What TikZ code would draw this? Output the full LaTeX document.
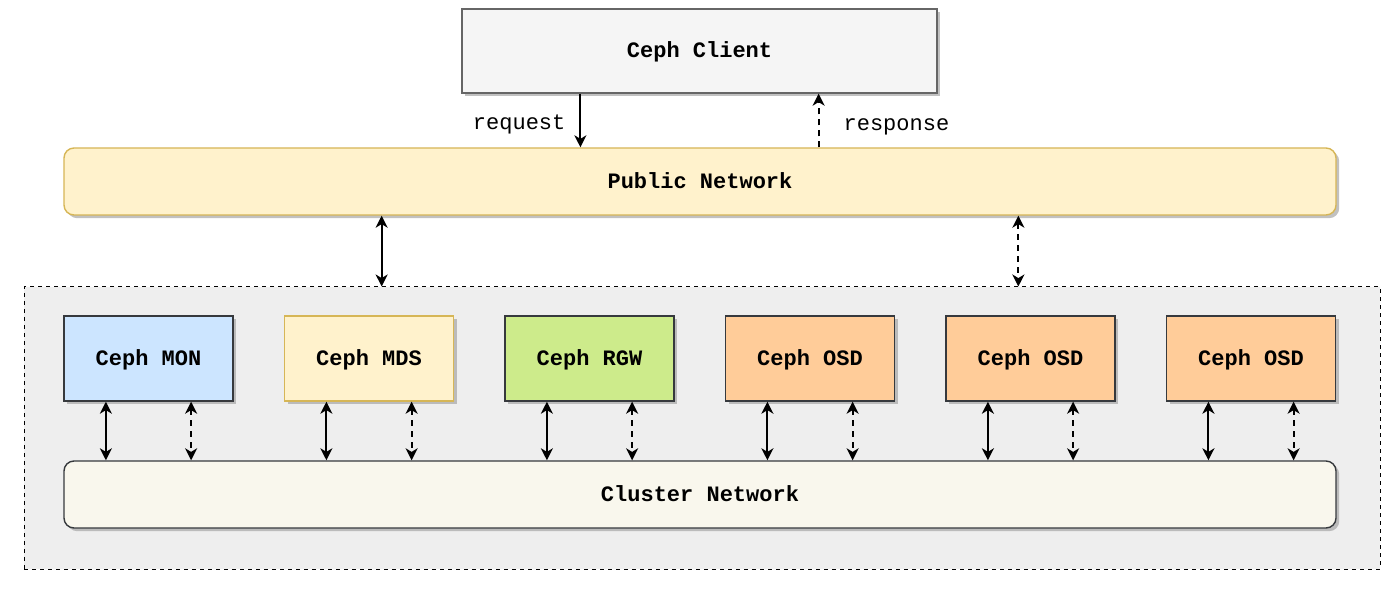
\documentclass[tikz,border=0pt]{standalone}
\usepackage{fontspec}
\setmonofont{Liberation Mono}
\usepackage{tikz}
\usetikzlibrary{arrows.meta, calc, shadows}

\definecolor{clientfill}{HTML}{F5F5F5}
\definecolor{clientdraw}{HTML}{666666}
\definecolor{pubfill}{HTML}{FFF2CC}
\definecolor{pubdraw}{HTML}{D6B656}
\definecolor{clufill}{HTML}{F9F7ED}
\definecolor{darkdraw}{HTML}{36393D}
\definecolor{zonefill}{HTML}{EEEEEE}
\definecolor{monfill}{HTML}{CCE5FF}
\definecolor{rgwfill}{HTML}{CDEB8B}
\definecolor{osdfill}{HTML}{FFCC99}

\begin{document}
\begin{tikzpicture}[
  x=0.5pt, y=-0.5pt,
  font=\fontsize{11}{13}\selectfont\ttfamily,
  shade/.style={drop shadow={shadow xshift=1.6pt, shadow yshift=-1.6pt, fill=black!35, opacity=0.7}},
  box/.style={draw=darkdraw, line width=0.7pt, shade, minimum width=84.5pt, minimum height=42.5pt,
    text height=0.9em, text depth=0.2em, font=\fontsize{11}{13}\selectfont\ttfamily\bfseries},
  net/.style={rounded corners=5pt, line width=0.7pt, shade, minimum width=636pt, minimum height=33.5pt,
    text height=0.9em, text depth=0.2em, font=\fontsize{11}{13}\selectfont\ttfamily\bfseries},
  zone/.style={draw=black, fill=zonefill, line width=0.5pt, dash pattern=on 2pt off 2pt, minimum width=678pt, minimum height=141pt},
  arr/.style={{Stealth[length=6pt, width=6pt, inset=1.8pt]}-{Stealth[length=6pt, width=6pt, inset=1.8pt]}, line width=1pt},
  oneway/.style={-{Stealth[length=6pt, width=6pt, inset=1.8pt]}, line width=1pt},
  dsh/.style={dash pattern=on 3pt off 2.5pt}
]
  \useasboundingbox (0,0) rectangle (1400,592);

  % Client and public network
  \node[box, fill=clientfill, draw=clientdraw, minimum width=237.5pt, minimum height=42pt] (client) at (699.5,51) {Ceph Client};
  \node[net, fill=pubfill, draw=pubdraw] (public) at (700,181.5) {Public Network};

  % Cluster zone
  \node[zone] (cluster zone) at (702,428) {};
  \node[net, fill=clufill, draw=darkdraw] (cluster) at (700,494.5) {Cluster Network};

  % Daemons
  \foreach \n/\f/\d/\x/\t in {mon/monfill/darkdraw/148.5/MON, mds/pubfill/pubdraw/369/MDS,
      rgw/rgwfill/darkdraw/589.5/RGW, osda/osdfill/darkdraw/810/OSD,
      osdb/osdfill/darkdraw/1030.5/OSD, osdc/osdfill/darkdraw/1251/OSD} {
    \node[box, fill=\f, draw=\d] (\n) at (\x,358.5) {Ceph \t};
  }

  % Client <-> public network
  \coordinate (req) at ($(client.south west)!0.25!(client.south east)$);
  \coordinate (resp) at ($(client.south west)!0.75!(client.south east)$);
  \draw[oneway] (req) -- (req |- public.north)
    node[midway, left=6pt, inner sep=1pt, yshift=-2pt] {request};
  \draw[oneway, dsh] (resp |- public.north) -- (resp)
    node[midway, right=11pt, inner sep=1pt, yshift=-3pt] {response};

  % Public network <-> cluster zone
  \coordinate (pl) at ($(public.south west)!0.25!(public.south east)$);
  \coordinate (pr) at ($(public.south west)!0.75!(public.south east)$);
  \draw[arr] (pl) -- (pl |- cluster zone.north);
  \draw[arr, dsh] (pr) -- (pr |- cluster zone.north);

  % Daemons <-> cluster network
  \foreach \n in {mon, mds, rgw, osda, osdb, osdc} {
    \coordinate (\n-l) at ($(\n.south west)!0.25!(\n.south east)$);
    \coordinate (\n-r) at ($(\n.south west)!0.75!(\n.south east)$);
    \draw[arr] (\n-l) -- (\n-l |- cluster.north);
    \draw[arr, dsh] (\n-r) -- (\n-r |- cluster.north);
  }
\end{tikzpicture}
\end{document}
